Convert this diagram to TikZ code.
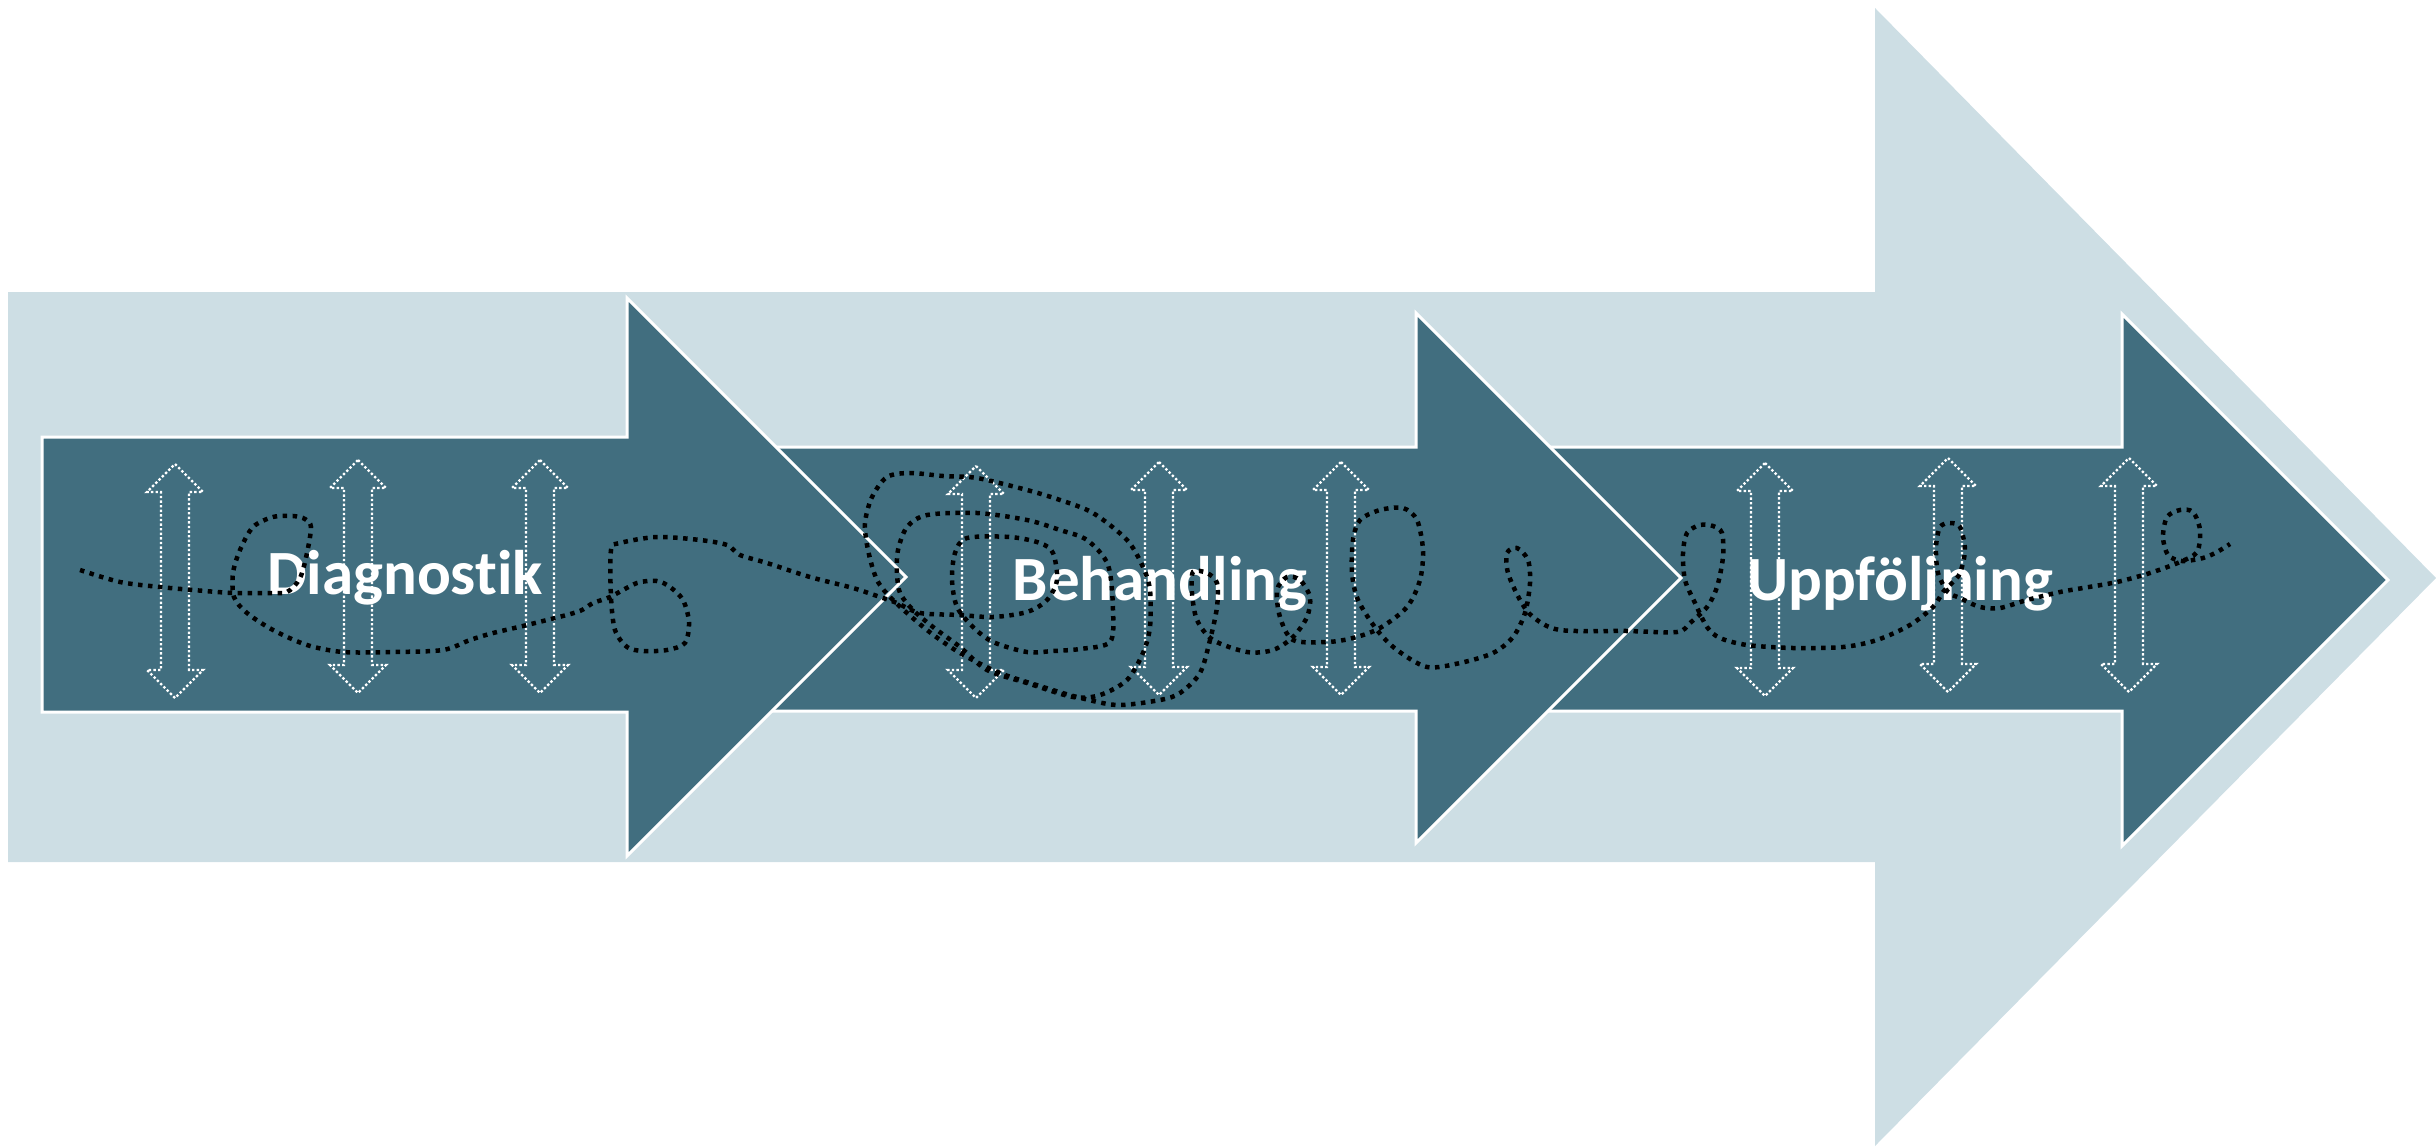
\documentclass[tikz,border=0pt]{standalone}
\usepackage{fontspec}
\setmainfont{Carlito}[Ligatures={NoCommon}]
\definecolor{lightbg}{HTML}{CDDEE4}
\definecolor{darkfill}{HTML}{416E7F}
\tikzset{
  bigarrow/.style={fill=lightbg, draw=none},
  phase/.style={fill=darkfill, draw=white, line width=3pt, line join=miter},
  phaselabel/.style={text=white, font=\bfseries\fontsize{63}{70}\selectfont, inner sep=0pt, anchor=base},
  updown/.style={draw=white, line width=2.4pt, dash pattern=on 2.4pt off 2.2pt, line join=miter},
  scribble/.style={draw=black, line width=4.5pt, dash pattern=on 4.5pt off 5.5pt},
}
\newcommand\vdblarrow[3]{%
  \draw[updown] (#1,#2) -- ({#1+28},{#2+28}) -- ({#1+14},{#2+28}) -- ({#1+14},{#3-28})
    -- ({#1+28},{#3-28}) -- (#1,#3) -- ({#1-28},{#3-28}) -- ({#1-14},{#3-28})
    -- ({#1-14},{#2+28}) -- ({#1-28},{#2+28}) -- cycle;}
\begin{document}
\begin{tikzpicture}[x=1pt,y=-1pt]
\useasboundingbox (0,0) rectangle (2436,1146);
% big light arrow
\fill[bigarrow] (8,292) -- (1875,292) -- (1875,8) -- (2436,578) -- (1875,1146) -- (1875,862) -- (8,862) -- cycle;
% phase arrows (drawn back to front)
\draw[phase] (1500,447) -- (2122,447) -- (2122,314) -- (2388,580) -- (2122,846) -- (2122,711) -- (1500,711) -- cycle;
\draw[phase] (700,447) -- (1416,447) -- (1416,313) -- (1681,578) -- (1416,843) -- (1416,711) -- (700,711) -- cycle;
\draw[phase] (42,437) -- (627,437) -- (627,298) -- (906,577) -- (627,856) -- (627,712) -- (42,712) -- cycle;
% labels
\node[phaselabel] (diag) at (405,594) {Diagnostik};
\node[phaselabel] (beh) at (1160,600) {Behandling};
\node[phaselabel] (upp) at (1900,600) {Uppföljning};
% vertical double arrows
\vdblarrow{175}{464}{698}
\vdblarrow{358}{460}{693}
\vdblarrow{540}{460}{693}
\vdblarrow{976}{466}{698}
\vdblarrow{1159}{462}{695}
\vdblarrow{1341}{462}{695}
\vdblarrow{1765}{463}{696}
\vdblarrow{1948}{458}{692}
\vdblarrow{2129}{458}{692}
% scribble
\draw[scribble] plot[smooth, tension=0.5] coordinates {
(80,570) (120,582) (160,587) (193,590) (233,593) (267,593) (287,592) (300,578) (307,553) (311,527) (305,519) (293,516) (273,517) (253,527) (240,550) (233,573) (234,597) (247,613) (273,630) (307,645) (343,652) (393,652) (443,650) (470,640) (493,633) (527,625) (577,612) (593,603) (610,597) (637,583) (657,581) (670,587) (683,600) (689,622) (685,643) (667,650) (643,651) (627,647) (615,630) (611,597) (611,550) (620,543) (657,537) (700,540) (727,545) (740,555) (767,563) (810,577) (853,588) (880,597) (897,603) (920,613) (960,615) (993,617) (1027,612) (1047,600) (1057,580) (1053,553) (1040,543) (1010,537) (967,538) (955,553) (952,580) (957,607) (973,627) (993,642) (1027,652) (1053,651) (1080,649) (1110,642) (1113,610) (1108,565) (1087,540) (1060,530) (1027,520) (977,513) (927,515) (907,527) (898,550) (897,573) (900,593) (913,610) (933,627) (960,647) (987,670) (1027,683) (1073,697) (1100,695) (1127,680) (1143,653) (1150,627) (1150,590) (1143,567) (1127,540) (1093,513) (1060,500) (1027,490) (977,478) (943,476) (910,473) (887,477) (872,497) (865,523) (868,550) (877,580) (893,600) (927,630) (960,653) (1000,673) (1043,687) (1077,697) (1117,705) (1160,700) (1180,693) (1200,673) (1210,640) (1217,607) (1217,583) (1207,573) (1193,572) (1192,593) (1197,620) (1213,640) (1247,652) (1273,650) (1293,637) (1307,617) (1310,597) (1300,580) (1287,577) (1277,590) (1280,617) (1293,640) (1327,642) (1353,638) (1380,628) (1407,607) (1420,580) (1423,550) (1417,520) (1403,508) (1380,510) (1360,520) (1353,540) (1352,573) (1358,600) (1377,630) (1397,650) (1427,667) (1460,663) (1493,653) (1513,637) (1525,613) (1530,583) (1528,560) (1517,548) (1507,553) (1508,573) (1520,600) (1533,617) (1560,630) (1627,631) (1677,632) (1690,623) (1707,607) (1717,587) (1723,557) (1722,533) (1713,526) (1700,525) (1687,533) (1683,553) (1685,580) (1695,603) (1707,627) (1720,638) (1747,645) (1793,648) (1843,647) (1877,640) (1910,625) (1933,607) (1943,592) (1952,583) (1960,573) (1965,550) (1960,527) (1950,523) (1940,527) (1936,547) (1938,573) (1948,592) (1960,598) (1980,607) (2000,608) (2027,600) (2060,592) (2083,588) (2117,582) (2150,573) (2180,562) (2197,552) (2200,530) (2193,512) (2180,510) (2167,517) (2163,537) (2168,555) (2182,561) (2203,558) (2217,552) (2230,544)};
\end{tikzpicture}
\end{document}
